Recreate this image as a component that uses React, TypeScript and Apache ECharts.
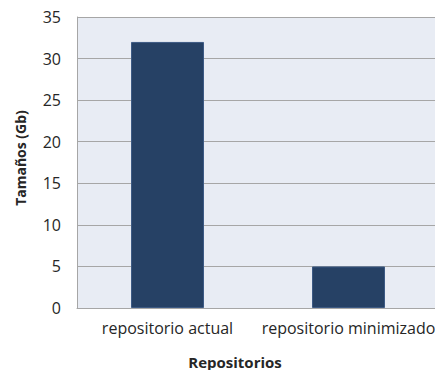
import React, { useEffect, useRef } from "react";
import * as echarts from "echarts";

// Repository sizes in gigabytes
const categories = ["repositorio actual", "repositorio minimizado"];
const sizesGb = [32, 5];
const yTicks = { min: 0, max: 35, interval: 5 };

const FONT = "'Open Sans', 'Liberation Sans', sans-serif";

export default function App() {
  const ref = useRef<HTMLDivElement>(null);

  useEffect(() => {
    if (!ref.current) return;
    const chart = echarts.init(ref.current, null, { renderer: "svg" });
    chart.setOption({
      animation: false,
      backgroundColor: "#ffffff",
      grid: {
        left: 77,
        right: -4,
        top: 17,
        bottom: 62,
        outerBoundsMode: "none",
        show: true,
        backgroundColor: "#e8ecf4",
        borderWidth: 0,
      },
      xAxis: {
        type: "category",
        data: categories,
        name: "Repositorios",
        nameLocation: "middle",
        nameGap: 46,
        nameTextStyle: {
          fontFamily: FONT,
          fontWeight: "bold",
          fontSize: 15,
          color: "#262626",
          padding: [0, 46, 0, 0],
        },
        axisLine: { show: true, lineStyle: { color: "#a6a6a6", width: 1 } },
        axisTick: { show: false },
        axisLabel: {
          fontFamily: FONT,
          fontSize: 16,
          color: "#262626",
          margin: 12,
          interval: 0,
        },
      },
      yAxis: {
        type: "value",
        min: yTicks.min,
        max: yTicks.max,
        interval: yTicks.interval,
        name: "Tamaños (Gb)",
        nameLocation: "middle",
        nameGap: 50,
        nameTextStyle: {
          fontFamily: FONT,
          fontWeight: "bold",
          fontSize: 14,
          color: "#262626",
          padding: [0, 0, 0, 9],
        },
        axisLine: { show: true, lineStyle: { color: "#a6a6a6", width: 1 } },
        axisTick: { show: false },
        splitLine: { show: true, lineStyle: { color: "#a6a6a6", width: 1 } },
        axisLabel: {
          fontFamily: FONT,
          fontSize: 16,
          color: "#262626",
          margin: 16,
        },
      },
      series: [
        {
          type: "bar",
          data: sizesGb,
          barWidth: 73,
          itemStyle: {
            color: "#264165",
            borderColor: "#3d5a84",
            borderWidth: 1,
          },
        },
      ],
    });
    return () => chart.dispose();
  }, []);

  return (
    <div
      ref={ref}
      style={{ position: "fixed", left: 0, top: 0, width: 435, height: 370 }}
    />
  );
}
